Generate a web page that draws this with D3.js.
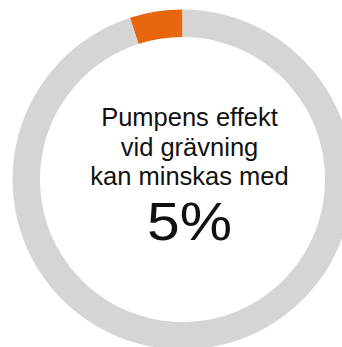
<!DOCTYPE html>
<html><head><meta charset="utf-8">
<script src="https://cdn.jsdelivr.net/npm/d3@7"></script>
<style>html,body{margin:0;padding:0;background:#fff;overflow:hidden}</style>
</head><body>
<script>
const categories = ["Minskning", "Övrigt"];
const values = [5, 95];
const colors = ["#e8670e", "#d6d5d3"];
const textLines = ["Pumpens effekt", "vid grävning", "kan minskas med"];
const bigLabel = "5%";

const W = 342, H = 347;
const cx = 182.5, cy = 179.5, rOut = 170, rIn = 142.5;
const svg = d3.select("body").append("svg").attr("width", W).attr("height", H);
const total = d3.sum(values);
const pie = d3.pie().sort(null)
  .startAngle(-2 * Math.PI * values[0] / total)
  .endAngle(2 * Math.PI - 2 * Math.PI * values[0] / total);
const arc = d3.arc().innerRadius(rIn).outerRadius(rOut);
const g = svg.append("g").attr("transform", `translate(${cx},${cy})`);
g.selectAll("path").data(pie(values)).join("path")
  .attr("d", arc).attr("fill", (d, i) => colors[i]);

const tx = 189.5;
const font = "'Liberation Sans', Arial, Helvetica, sans-serif";
svg.selectAll("text.l").data(textLines).join("text").attr("class", "l")
  .attr("x", tx).attr("y", (d, i) => 126 + i * 29.5)
  .attr("text-anchor", "middle").attr("font-family", font)
  .attr("font-size", 25.5).attr("fill", "#111").text(d => d);
svg.append("text").attr("x", tx).attr("y", 240)
  .attr("text-anchor", "middle").attr("font-family", font)
  .attr("font-size", 53).attr("fill", "#111")
  .attr("textLength", 85).attr("lengthAdjust", "spacingAndGlyphs")
  .text(bigLabel);
</script>
</body></html>
